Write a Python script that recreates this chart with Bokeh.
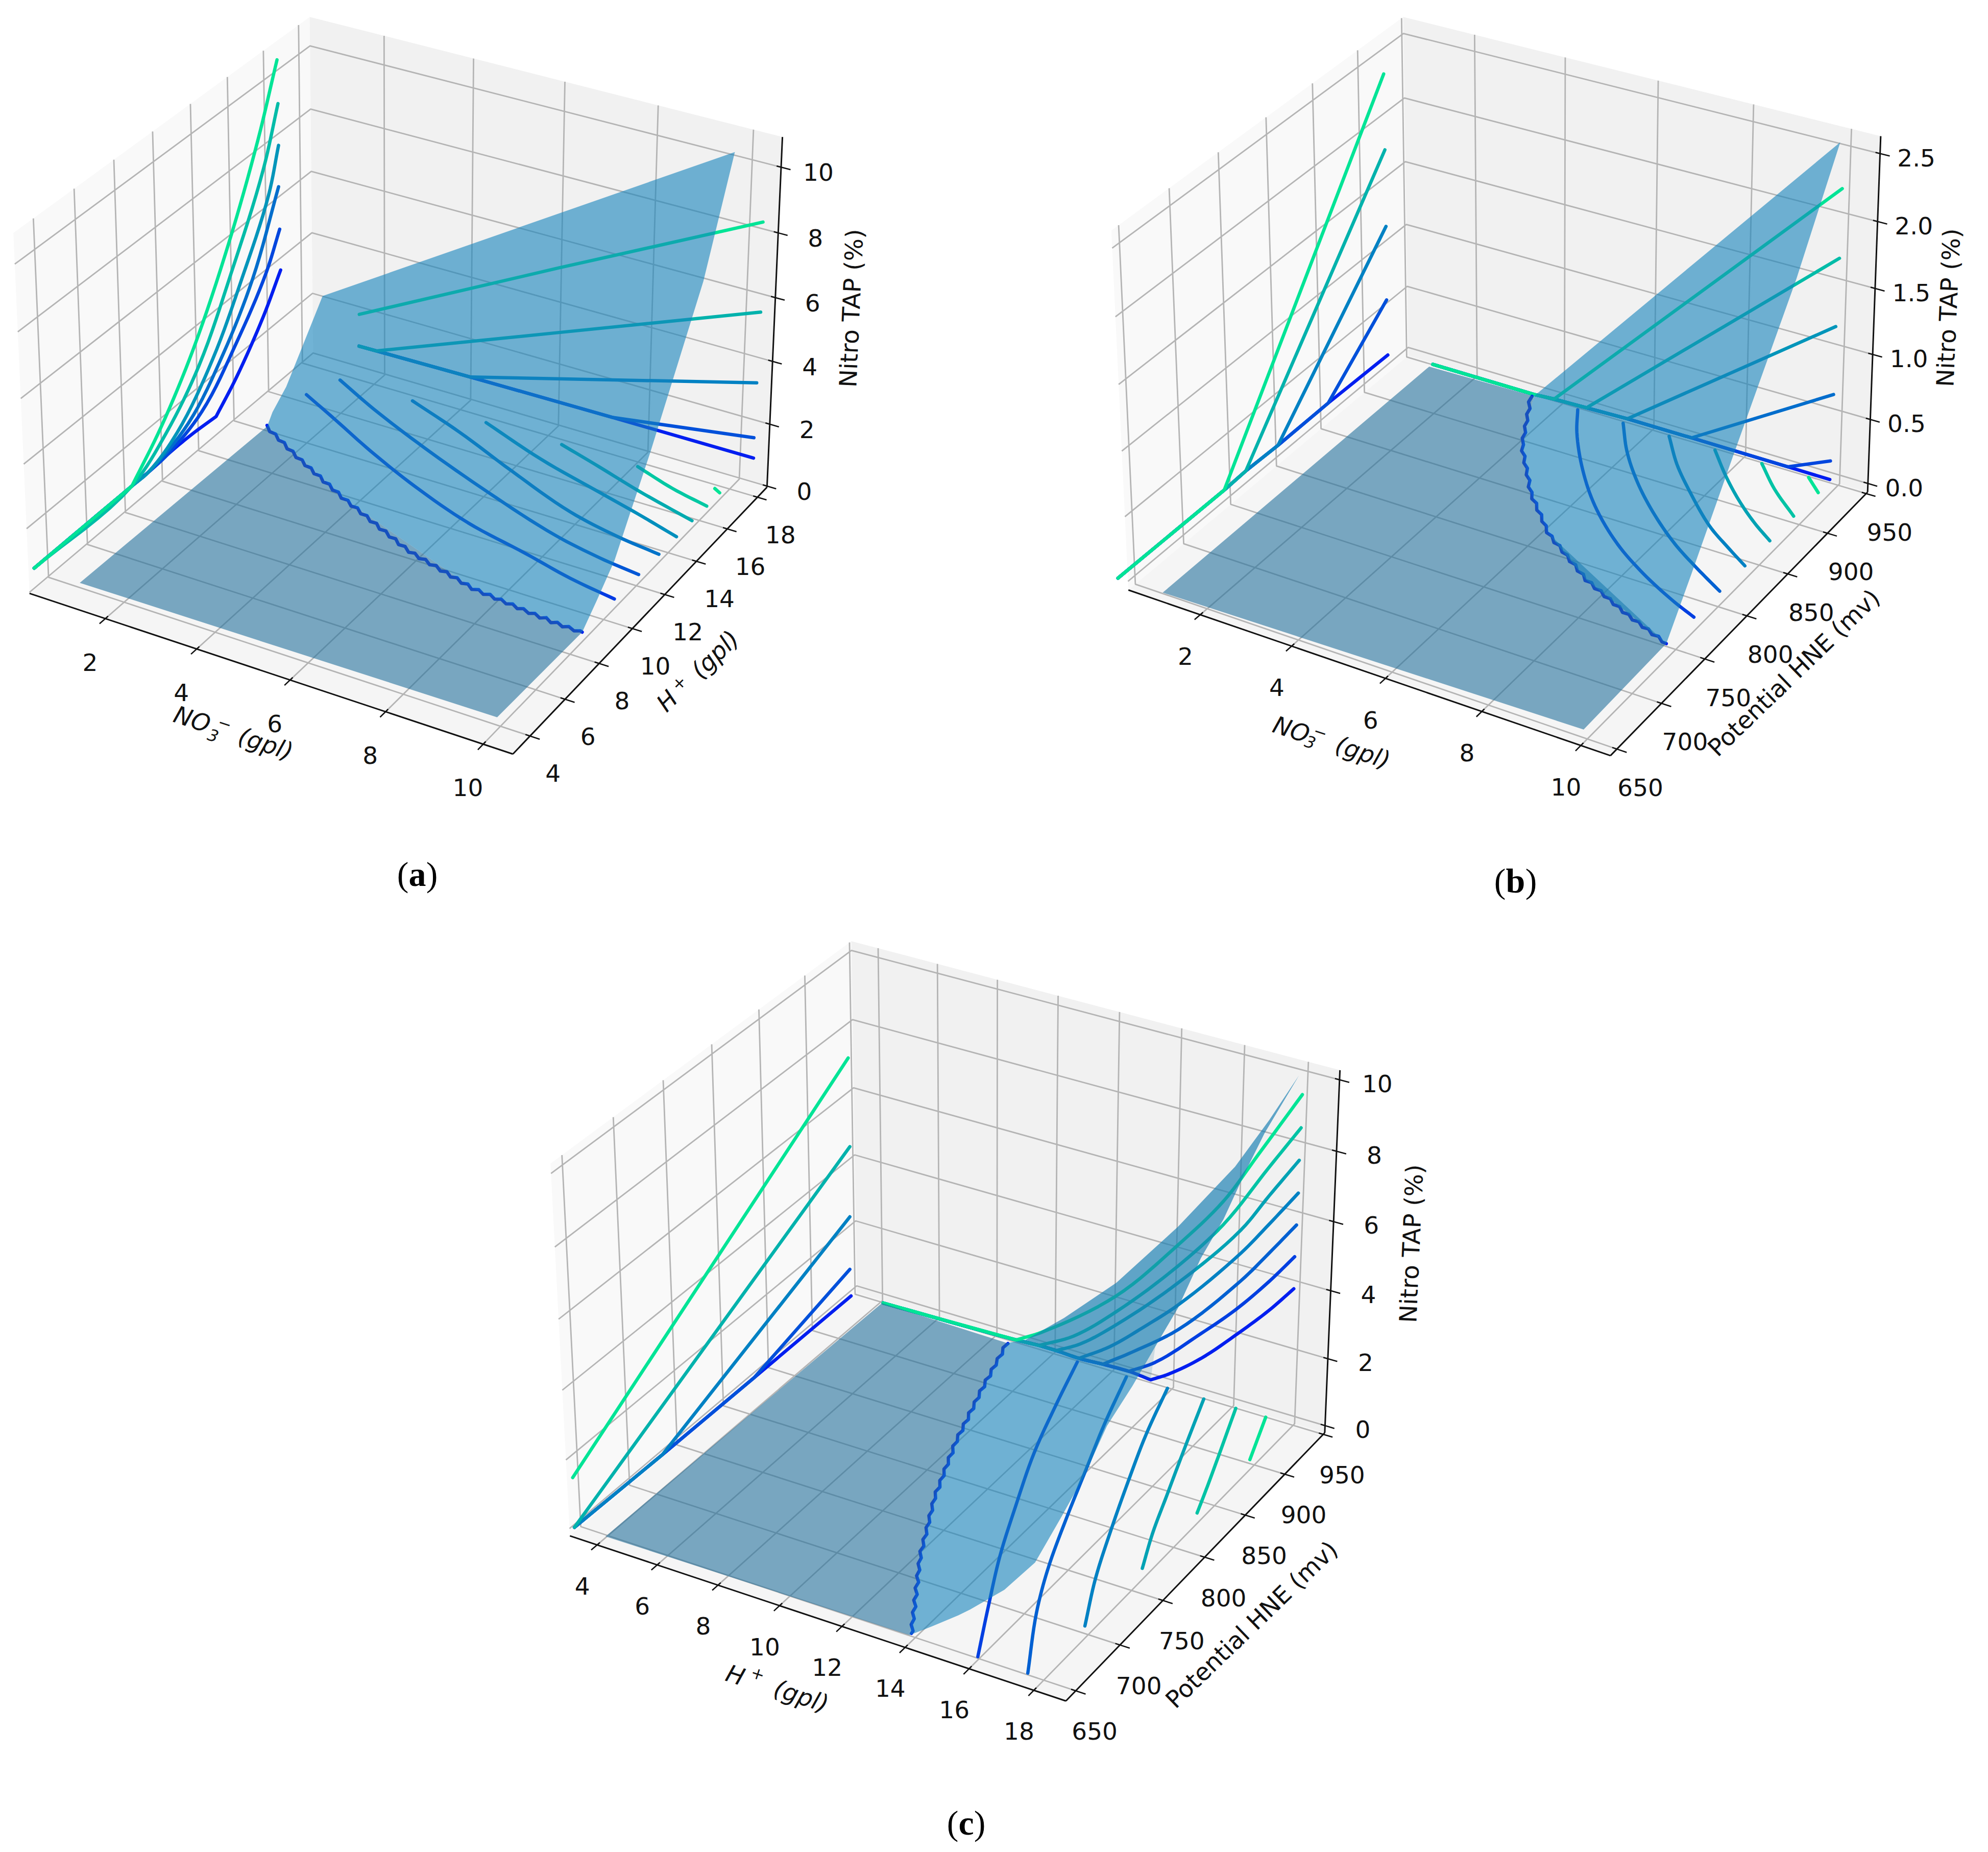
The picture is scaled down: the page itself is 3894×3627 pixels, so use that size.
import numpy as np
from bokeh.plotting import figure
from bokeh.models import Range1d
from bokeh.core.properties import value
from bokeh.embed import file_html
from bokeh.resources import INLINE

# ---------- Panel (a) : NO3- / H+ / Nitro TAP ----------
A_X_TICKS=[2,4,6,8,10]
A_Y_TICKS=[4,6,8,10,12,14,16,18]
A_Z_TICKS=[0,2,4,6,8,10]
A_Z_LABELS=["0","2","4","6","8","10"]
A_WALLX_PLANE=0.512
A_WALLX=[
 ([2.88,7.92,8.78,9.8,11.12,12.52,13.7,15.27,16.29],[.94,.95,.95,1,1,.92,1.64,2.88,3.92]),
 ([2.88,7.92,8.78,9.8,11.73,13.74,15.47,16.27],[.94,.95,.95,1,1.45,2.75,4.21,5.25]),
 ([2.88,7.92,8.78,10.99,12.98,14.7,16.24],[.94,.95,.95,1.44,2.73,4.36,6.62]),
 ([2.88,7.92,8.78,10.4,12.39,14.1,15.68,16.27],[.94,.95,.95,1.45,2.83,4.64,6.62,7.92]),
 ([2.88,7.92,9.83,11.65,13.52,15.41,16.27],[.94,.95,1.73,2.99,5.09,7.56,9.23]),
 ([2.88,7.92,9.56,11.38,13.4,15.13,16.25],[.94,.95,2.05,3.67,6.06,8.59,10.6]),
]
A_WALLY_PLANE=18.332
A_WALLY=[
 ([1.52,4.1,7.31,10.38],[.88,.93,.96,.97]),
 ([1.52,4.1,7.31,10.37],[.88,.93,.96,1.62]),
 ([1.52,4.1,10.38],[.88,.93,3.38]),
 ([1.52,1.93,6.2,10.4],[.88,.89,3.27,5.61]),
 ([1.53,6.05,10.37],[1.94,5.26,8.38]),
]
A_FLOOR=[
 ([.99,1.16,1.31,1.48,1.63,1.8,1.95,2.12,2.27,2.43,2.58,2.74,2.89,3.05,3.2,3.36,3.5,3.66,3.81,3.97,4.11,4.27,4.41,4.57,4.71,4.86,5,5.16,5.3,5.45,5.59,5.75,5.87,6.03,6.15,6.31,6.43,6.59,6.71,6.86,6.98,7.14,7.26,7.41,7.53,7.68,7.79,7.94,8.05,8.2,8.31,8.46,8.56,8.72,8.82,8.97,9.07,9.22,9.32,9.47,9.57,9.72,9.82,9.87],
  [14.22,13.95,13.92,13.66,13.63,13.36,13.33,13.07,13.05,12.81,12.79,12.55,12.54,12.29,12.28,12.04,12.03,11.78,11.78,11.55,11.56,11.33,11.33,11.1,11.11,10.88,10.89,10.66,10.67,10.44,10.45,10.23,10.28,10.09,10.15,9.96,10.02,9.83,9.89,9.7,9.76,9.57,9.63,9.44,9.53,9.38,9.48,9.33,9.42,9.28,9.37,9.22,9.31,9.17,9.26,9.12,9.23,9.07,9.18,9.05,9.15,9.03,9.12,9.09]),
 ([1.05,2.07,3.28,4.68,6.21,7.71,8.83,9.87],[16.37,15.52,14.49,13.43,12.47,11.85,11.35,11.03]),
 ([1.34,2.52,4.11,6.02,7.88,8.98,9.88],[17.64,16.65,15.48,14.22,13.14,12.72,12.5]),
 ([3.02,4.42,6.03,7.73,8.91,9.89],[17.67,16.79,15.62,14.48,13.99,13.74]),
 ([4.71,6.32,7.89,8.89,9.9],[17.67,16.64,15.86,15.37,14.83]),
 ([6.41,7.45,8.5,9.9],[17.69,17.12,16.52,15.83]),
 ([8.09,9.05,9.91],[17.71,17.13,16.76]),
 ([9.76,9.91],[17.75,17.61]),
]
A_FLAT=([.94,9.83,9.87,7.42,3.72,1.01],[4.16,4.28,9.09,9.5,11.79,14.18],[0,0,0,0,0,0])
A_RISE=([1.01,.94,.94,.94,.94,.94,9.87,9.87,9.87,9.87,9.87,9.87,9.87,7.42,3.72],
        [14.18,14.66,15.47,16.29,17.4,17.65,17.88,16.12,13.05,11.92,10.98,9.93,9.09,9.5,11.79],
        [0,.2,.65,1.39,2.39,2.62,10.51,7.37,3.56,2.3,1.24,.53,0,0,0])

# ---------- Panel (b) : NO3- / Potential / Nitro TAP ----------
B_X_TICKS=[2,4,6,8,10]
B_Y_TICKS=[650,700,750,800,850,900,950]
B_Z_TICKS=[0,.5,1,1.5,2,2.5]
B_Z_LABELS=["0.0","0.5","1.0","1.5","2.0","2.5"]
B_WALLX_PLANE=0.593
B_WALLX=[
 ([624.7,734.6,757.8,792.8,849,917.8],[.165,.163,.172,.163,.167,.155]),
 ([624.7,734.6,757.8,792.8,849,917.5],[.165,.163,.172,.163,.167,.603]),
 ([624.7,734.6,757.8,792.8,918.3],[.165,.163,.172,.163,1.186]),
 ([624.7,734.6,757.8,918.5],[.165,.163,.172,1.786]),
 ([624.7,734.6,918.6],[.165,.163,2.372]),
]
B_WALLY_PLANE=945.713
B_WALLY=[
 ([1.09,3.42,3.88,4.61,5.52,6.93,9,9.89],[-.031,-.031,-.02,-.013,-.004,-.004,-.007,-.009]),
 ([1.09,3.42,3.88,4.61,5.52,6.93,9,9.89],[-.031,-.031,-.02,-.013,-.004,-.004,-.007,.137]),
 ([1.09,3.42,3.88,4.61,5.52,6.93,9.91],[-.031,-.031,-.02,-.013,-.004,-.004,.657]),
 ([1.09,3.42,3.88,4.61,5.52,9.91],[-.031,-.031,-.02,-.013,-.004,1.178]),
 ([1.09,3.42,3.88,4.61,9.94],[-.031,-.031,-.02,-.013,1.697]),
 ([1.09,3.42,3.88,9.95],[-.031,-.031,-.02,2.216]),
]
B_FLOOR=[
 ([3.5,3.55,3.7,3.75,3.89,3.94,4.08,4.13,4.27,4.35,4.51,4.61,4.77,4.87,5.03,5.12,5.28,5.39,5.55,5.67,5.83,5.95,6.1,6.22,6.37,6.51,6.66,6.8,6.94,7.08,7.23,7.36,7.51,7.64,7.78,7.92,8.06,8.2,8.33,8.47,8.6,8.74,8.87,9.01,9.14,9.28,9.4,9.54,9.67,9.81,9.9],
  [939.2,932.3,926.1,919.3,913.2,906.5,900.4,893.7,887.7,881.1,876.7,869.9,865.6,858.9,854.6,847.9,843.7,837.5,834.6,828.3,825.4,819.1,816.2,810,808.3,802.9,801.8,796.5,795.3,790,788.9,783.7,782.5,777.3,777.2,772.7,772.7,768.3,768.3,763.9,763.9,759.5,759.6,755.6,756,752,752.4,748.4,748.8,744.8,744.6]),
 ([4.53,4.93,5.71,6.54,7.54,8.45,9.32,9.92],[939.3,916.3,880.6,849.5,820.4,800.3,784.7,775.7]),
 ([5.54,6.1,6.8,7.57,8.45,9.2,9.92],[939.4,912.6,885.7,861.1,837.3,820.9,806.4]),
 ([6.54,7.16,7.86,8.74,9.36,9.92],[940.1,914.3,890.5,863.6,849.2,836.9]),
 ([7.54,8.15,8.77,9.39,9.92],[939.9,917.6,897.5,880.2,867.6]),
 ([8.54,9.16,9.91],[940.3,919,898.1]),
 ([9.53,9.93],[940.4,928.2]),
]
B_FLAT=([1.16,9.94,9.9,6.27,5.27,4.28,3.53,1.15],[643.4,649.2,744.6,809.6,842.8,885.3,939.9,938.3],[0,0,0,0,0,0,0,0])
B_RISE=([3.53,9.97,9.9,9.9,9.9,9.9,7.65,6.27,5.27,4.28],[939.9,939.9,893.8,819.6,773,744.6,778.2,809.6,842.8,885.3],[0,2.589,1.829,.923,.342,0,0,0,0,0])

# ---------- Panel (c) : H+ / Potential / Nitro TAP ----------
C_X_TICKS=[4,6,8,10,12,14,16,18]
C_Y_TICKS=[650,700,750,800,850,900,950]
C_Z_TICKS=[0,2,4,6,8,10]
C_Z_LABELS=["0","2","4","6","8","10"]
C_WALLX_PLANE=3.404
C_WALLX=[
 ([634.9,725,824.4,934.9],[.23,.18,.16,.15]),
 ([634.9,725,824.4,934],[.23,.18,.16,.99]),
 ([634.9,725,935],[.23,.18,2.57]),
 ([634.9,936.3],[.23,4.65]),
 ([635.7,936],[1.66,7.27]),
]
C_WALLY_PLANE=945.747
C_WALLY=[
 ([4.21,8.84,9.62,10.21,10.98,11.79,12.67,13.4,14,15.04,16.27,17.2,17.96],[-.1,-.01,.03,.03,0,.04,.06,0,.34,1.09,2.2,3.1,3.93]),
 ([4.21,8.84,9.62,10.21,10.98,11.79,12.67,13.54,15.02,16.11,17.17,17.95],[-.1,-.01,.03,.03,0,.04,.06,.57,1.83,2.82,3.94,4.86]),
 ([4.21,8.84,9.62,10.21,10.98,11.79,12.78,14.27,16.28,17.14,17.97],[-.1,-.01,.03,.03,0,.04,.68,1.75,3.74,4.76,5.78]),
 ([4.21,8.84,9.62,10.21,10.98,12.01,13.14,14.25,16.25,17.11,17.99],[-.1,-.01,.03,.03,0,.63,1.53,2.48,4.54,5.59,6.7]),
 ([4.21,8.84,9.62,10.21,11.02,12.23,14.23,16.23,17.08,17.98],[-.1,-.01,.03,.03,.45,1.36,3.13,5.21,6.4,7.63]),
 ([4.21,8.84,9.62,10.78,12.22,14.22,15.66,17.05,18],[-.1,-.01,.03,.62,1.75,3.63,5.22,7.21,8.55]),
 ([4.21,8.84,9.7,12.21,14.2,15.64,16.68,18],[-.1,-.01,.45,2.22,4.24,5.89,7.46,9.48]),
]
C_FLOOR=[
 ([8.74,8.73,8.9,8.89,9.05,9.04,9.21,9.19,9.36,9.35,9.52,9.52,9.69,9.68,9.86,9.85,10.02,10.01,10.18,10.19,10.38,10.39,10.57,10.59,10.77,10.79,10.97,10.98,11.16,11.21,11.4,11.45,11.64,11.69,11.88,11.92,12.11,12.15,12.35,12.42,12.62,12.69,12.9,12.96,13.17,13.23,13.44,13.5,13.7,13.77,13.97,13.99],
  [939.2,933.5,926.9,920.9,914.1,908.4,901.7,896,889.3,883.6,877.1,871.3,864.8,859.1,852.7,847,840.6,835,828.6,822.9,816.7,810.9,804.8,799,793,787.3,781.3,775.6,769.8,763.8,758.2,752.3,746.7,740.9,735.3,729.5,724.1,718.3,713,707.1,702.1,696.2,691.3,685.4,680.5,674.7,669.8,664.1,659.2,653.5,648.7,646.3]),
 ([11.04,11.64,12.4,13.31,14.19,15.14,16.1],[941.6,894.8,840,786.2,736.9,690.5,645.1]),
 ([12.7,13.39,14.18,14.88,15.67,16.44,17.64],[941.4,889,835.3,788.1,738.4,697.9,645.3]),
 ([14.05,14.72,15.48,16.21,17.03,17.89],[942.3,890,839.3,792.9,743.8,700.1]),
 ([15.25,16.03,16.77,17.32,17.91],[942.5,888.2,837.8,800.4,765.9]),
 ([16.3,17.16,17.58,17.92],[942.7,884.5,855.6,831.4]),
 ([17.28,17.93],[942.8,896.8]),
]
C_FLAT=([4.18,13.99,12.28,11.09,10.17,9.36,8.7,4.28],[642.5,644.3,714.3,771.3,826.7,885.8,939.5,942],[0,0,0,0,0,0,0,0])
C_RISE=([8.7,9.33,10.64,12.37,14.35,16.12,17.15,18.02,17.94,17.94,17.94,17.94,17.94,17.94,17.94,17.94,17.94,17.94,17.87,16.94,15.89,15.52,14.7,13.99,12.28,11.09,10.17,9.36],
        [939.5,939.5,939.5,939.5,939.5,939.5,939.5,939.5,901.6,880.1,853.6,827,801,774.9,749.1,720.4,695.3,670.3,644.3,644.3,644.3,644.3,644.3,644.3,714.3,771.3,826.7,885.8],
        [0,.26,1.28,2.79,4.95,7.12,8.69,10.14,9.3,8.73,7.92,7.41,6.61,6.12,5.62,5.18,4.39,3.86,3.22,2.18,1.31,1.03,.47,0,0,0,0,0])
C_FOLD=([9.33,10.64,12.37,14.35,16.12,17.15,18.02,17.94,17.94,17.94,17.94,17.94,17.94,13.4,10.21],
        [939.5,939.5,939.5,939.5,939.5,939.5,939.5,901.6,880.1,853.6,827,801,774.9,945.7,945.7],
        [.26,1.28,2.79,4.95,7.12,8.69,10.14,9.3,8.73,7.92,7.41,6.61,6.12,0,.03])

# ---------- projection calibration of the three 3-D boxes ----------
def dlt(cor):
    rows=[]
    for (u,v,w),(x,y) in cor.items():
        X=[u,v,w,1]
        rows.append(X+[0,0,0,0]+[-x*c for c in X])
        rows.append([0,0,0,0]+X+[-y*c for c in X])
    return np.linalg.svd(np.array(rows,float))[2][-1].reshape(3,4)

PANELS=[
 dict(cor={(0,0,0):(58,1164),(1,0,0):(1003,1475.5),(1,1,0):(1502,954),(1,1,1):(1533,268),(0,1,1):(605,34),(0,0,1):(26,454),(0,1,0):(613,691)},
      lim=((0.306,10.599),(3.037,18.644),(-0.035,10.909)),
      xt=A_X_TICKS,yt=A_Y_TICKS,zt=A_Z_TICKS,zl=A_Z_LABELS,
      wx=A_WALLX,wxp=A_WALLX_PLANE,wy=A_WALLY,wyp=A_WALLY_PLANE,fl=A_FLOOR,flat=A_FLAT,rise=A_RISE,fold=None,
      off=((-30,85),(45,73),(73,10)),sm=(True,False)),
 dict(cor={(0,0,0):(2209,1161),(1,0,0):(3153,1476),(1,1,0):(3656,968),(1,1,1):(3686,264.5),(0,1,1):(2744,37),(0,0,1):(2178,448),(0,1,0):(2761,689)},
      lim=((0.389,10.587),(642.9,951.893),(-0.068,2.627)),
      xt=B_X_TICKS,yt=B_Y_TICKS,zt=B_Z_TICKS,zl=B_Z_LABELS,
      wx=B_WALLX,wxp=B_WALLX_PLANE,wy=B_WALLY,wyp=B_WALLY_PLANE,fl=B_FLOOR,flat=B_FLAT,rise=B_RISE,fold=None,
      off=((-29,81),(46,75),(71,8)),sm=(False,False)),
 dict(cor={(0,0,0):(1113,3012),(1,0,0):(2089,3326),(1,1,0):(2591,2814),(1,1,1):(2626,2091),(0,1,1):(1664,1847),(0,0,1):(1079,2278),(0,1,0):(1682,2523)},
      lim=((3.086,18.981),(639.053,952.006),(-0.216,10.266)),
      xt=C_X_TICKS,yt=C_Y_TICKS,zt=C_Z_TICKS,zl=C_Z_LABELS,
      wx=C_WALLX,wxp=C_WALLX_PLANE,wy=C_WALLY,wyp=C_WALLY_PLANE,fl=C_FLOOR,flat=C_FLAT,rise=C_RISE,fold=C_FOLD,
      off=((-29,80),(37,79),(74,7)),sm=(False,True)),
]

p=figure(width=3890,height=3623,x_range=Range1d(0,3890),y_range=Range1d(3623,0),
         output_backend="svg",toolbar_location=None,min_border=0)
p.axis.visible=False;p.grid.visible=False;p.outline_line_color=None

BLUE=np.array([0,30,240.]);GREEN=np.array([0,228,150.])
LW=6.5
def cmap(t):
    c=BLUE+(GREEN-BLUE)*t
    return "#%02x%02x%02x"%tuple(int(round(v)) for v in c)
FONT=value("DejaVu Sans")
def txt(x,y,s,size=47,ang=0,style="normal",font=FONT,align="center",base="middle",color="#111111"):
    p.text([x],[y],text=[s],text_font=font,text_font_size=f"{size}px",text_font_style=style,
           angle=np.radians(ang),text_align=align,text_baseline=base,text_color=color)

def curve(x,y,color,smooth=True):
    """Draw a contour through its read points, as a smooth stroke where the reference is curved."""
    x=np.asarray(x,float);y=np.asarray(y,float);n=len(x)
    if n<3 or n>20 or not smooth:
        p.line(x,y,line_color=color,line_width=LW,line_cap="round",line_join="round");return
    P=np.c_[x,y];d=np.diff(P,axis=0);L=np.hypot(d[:,0],d[:,1]);L[L==0]=1e-6;e=d/L[:,None]
    tin=np.zeros((n,2));tout=np.zeros((n,2))
    tin[-1]=e[-1];tout[0]=e[0]
    for i in range(1,n-1):
        if e[i-1]@e[i]<np.cos(np.radians(22)):
            tin[i]=e[i-1];tout[i]=e[i]
        else:
            t=e[i-1]+e[i];t/=np.hypot(*t);tin[i]=t;tout[i]=t
    X=[];Y=[]
    for i in range(n-1):
        for s in np.linspace(0,1,9)[:-1]:
            h=(2*s**3-3*s**2+1)*P[i]+(s**3-2*s**2+s)*L[i]*tout[i]+(-2*s**3+3*s**2)*P[i+1]+(s**3-s**2)*L[i]*tin[i+1]
            X.append(h[0]);Y.append(h[1])
    X.append(x[-1]);Y.append(y[-1])
    p.line(X,Y,line_color=color,line_width=LW,line_cap="round",line_join="round")

GRID="#b4b4b4"
for P in PANELS:
    M=dlt(P['cor'])
    def N(u,v,w):
        h=M@np.array([u,v,w,np.ones_like(u)],float)
        return h[0]/h[2],h[1]/h[2]
    lim=P['lim']
    nx=lambda a:(np.asarray(a,float)-lim[0][0])/(lim[0][1]-lim[0][0])
    ny=lambda a:(np.asarray(a,float)-lim[1][0])/(lim[1][1]-lim[1][0])
    nz=lambda a:(np.asarray(a,float)-lim[2][0])/(lim[2][1]-lim[2][0])
    D=lambda x,y,z:N(nx(x),ny(y),nz(z))
    for pts,col in (([(0,0,0),(0,1,0),(0,1,1),(0,0,1)],"#f9f9f9"),([(0,1,0),(1,1,0),(1,1,1),(0,1,1)],"#f1f1f1"),([(0,0,0),(1,0,0),(1,1,0),(0,1,0)],"#f5f5f5")):
        a=np.array(pts,float);x,y=N(a[:,0],a[:,1],a[:,2])
        p.patch(x,y,fill_color=col,line_color=None)
    for t in P['xt']:
        u=float(nx(t));a=np.array([(u,0,0),(u,1,0),(u,1,1)]);x,y=N(a[:,0],a[:,1],a[:,2]);p.line(x,y,line_color=GRID,line_width=2.8)
    for t in P['yt']:
        u=float(ny(t));a=np.array([(1,u,0),(0,u,0),(0,u,1)]);x,y=N(a[:,0],a[:,1],a[:,2]);p.line(x,y,line_color=GRID,line_width=2.8)
    for t in P['zt']:
        u=float(nz(t));a=np.array([(0,0,u),(0,1,u),(1,1,u)]);x,y=N(a[:,0],a[:,1],a[:,2]);p.line(x,y,line_color=GRID,line_width=2.8)
    for a in ([(0,0,0),(1,0,0)],[(1,0,0),(1,1,0)],[(1,1,0),(1,1,1)]):
        a=np.array(a,float);x,y=N(a[:,0],a[:,1],a[:,2]);p.line(x,y,line_color="#111111",line_width=3)
    I,O=.009,.019
    for t in P['xt']:
        u=float(nx(t));x,y=N(np.array([u,u]),np.array([I,-O]),np.array([0.,0.]));p.line(x,y,line_color="#111111",line_width=2.6)
        tx,ty=N(np.array(u),np.array(0.),np.array(0.));txt(float(tx)+P['off'][0][0],float(ty)+P['off'][0][1],str(t))
    for t in P['yt']:
        u=float(ny(t));x,y=N(np.array([1-I,1+O]),np.array([u,u]),np.array([0.,0.]));p.line(x,y,line_color="#111111",line_width=2.6)
        tx,ty=N(np.array(1.),np.array(u),np.array(0.));txt(float(tx)+P['off'][1][0],float(ty)+P['off'][1][1],str(t))
    for t,l in zip(P['zt'],P['zl']):
        u=float(nz(t));x,y=N(np.array([1-I,1+O]),np.array([1.,1.]),np.array([u,u]));p.line(x,y,line_color="#111111",line_width=2.6)
        tx,ty=N(np.array(1.),np.array(1.),np.array(u));txt(float(tx)+P['off'][2][0],float(ty)+P['off'][2][1],l)
    n=len(P['wx'])
    for i,(yy,zz) in enumerate(P['wx']):
        yy=np.array(yy,float);x,y=D(np.full(len(yy),P['wxp']),yy,np.array(zz,float));curve(x,y,cmap(i/(n-1)),P['sm'][0])
    n=len(P['wy'])
    for i,(xx,zz) in enumerate(P['wy']):
        xx=np.array(xx,float);x,y=D(xx,np.full(len(xx),P['wyp']),np.array(zz,float));curve(x,y,cmap(i/(n-1)),P['sm'][1])
    n=len(P['fl'])
    for i,(xx,yy) in enumerate(P['fl']):
        xx=np.array(xx,float);x,y=D(xx,np.array(yy,float),np.zeros(len(xx)));curve(x,y,cmap(i/(n-1)))
    x,y=D(*P['flat']);p.patch(x,y,fill_color="#24729c",fill_alpha=.6,line_color=None)
    x,y=D(*P['rise']);p.patch(x,y,fill_color="#1684bc",fill_alpha=.6,line_color=None)
    if P['fold'] is not None:
        x,y=D(*P['fold']);p.patch(x,y,fill_color="#24729c",fill_alpha=.18,line_color=None)

OB="italic"
S=32
txt(376,1408,"NO",ang=-18,style=OB);txt(417,1440,"3",size=S,ang=-18,style=OB);txt(440,1416,"\u2212",size=S,ang=-18);txt(520,1456,"(gpl)",ang=-18,style=OB)
txt(1306,1372,"H",ang=45,style=OB);txt(1329,1337,"+",size=S,ang=45);txt(1400,1281,"(gpl)",ang=45,style=OB)
txt(1667,603,"Nitro TAP (%)",ang=87.5)
txt(2529,1428,"NO",ang=-18,style=OB);txt(2566,1453,"3",size=S,ang=-18,style=OB);txt(2586,1433,"\u2212",size=S,ang=-18);txt(2669,1473,"(gpl)",ang=-18,style=OB)
txt(3513,1317,"Potential HNE (mv)",ang=44)
txt(3816,602,"Nitro TAP (%)",ang=87.5)
txt(1440,3280,"H",ang=-18,style=OB);txt(1484,3277,"+",size=S,ang=-18);txt(1569,3321,"(gpl)",ang=-18,style=OB)
txt(2451,3181,"Potential HNE (mv)",ang=44)
txt(2764,2435,"Nitro TAP (%)",ang=87.5)
SER=value("Liberation Serif")
for cx,cy,l,d in ((817,1711,"a",28.5),(2968,1724,"b",30.5),(1892,3569,"c",26.5)):
    txt(cx-d,cy,"(",size=68,font=SER,color="#000000")
    txt(cx,cy,l,size=68,font=SER,style="bold",color="#000000")
    txt(cx+d,cy,")",size=68,font=SER,color="#000000")
open("out.html","w").write(file_html(p,INLINE))
